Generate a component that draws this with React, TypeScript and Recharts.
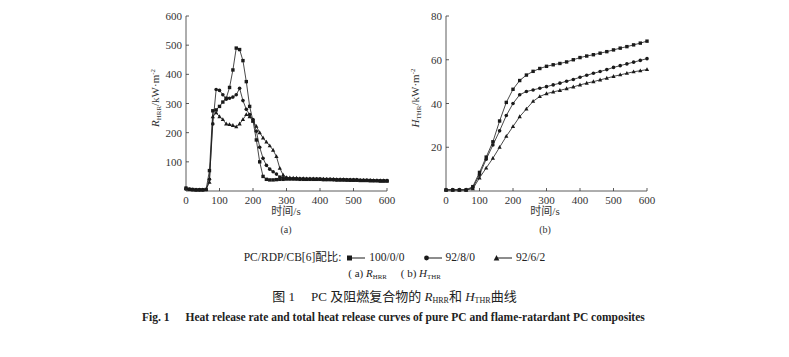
import React from 'react';
import { LineChart, Line, XAxis, YAxis } from 'recharts';

// time axis of the heat release rate curves, s
const hrrTime = [
  0, 10, 20, 30, 40, 50, 60, 70, 80, 90, 100, 110, 120, 130, 140, 150, 160, 170, 180, 190, 200,
  210, 220, 230, 240, 250, 260, 270, 280, 290, 300, 310, 320, 330, 340, 350, 360, 370, 380, 390,
  400, 410, 420, 430, 440, 450, 460, 470, 480, 490, 500, 510, 520, 530, 540, 550, 560, 570, 580,
  590, 600,
];
// R_HRR, kW/m2
const hrrPC = [
  10, 6, 5, 4, 4, 4, 5, 70, 275, 278, 290, 305, 318, 355, 415, 490, 485, 447, 375, 290, 240,
  175, 100, 50, 40, 38, 38, 39, 40, 40, 41, 41, 41, 41, 40, 40, 40, 40, 40, 40,
  40, 39, 39, 39, 39, 38, 38, 38, 38, 37, 37, 37, 36, 36, 36, 35, 35, 35, 34,
  34, 34,
];
const hrrRdp = [
  8, 6, 5, 4, 4, 4, 5, 40, 230, 348, 345, 330, 315, 318, 322, 330, 352, 310, 280, 262, 245,
  205, 150, 112, 88, 75, 66, 58, 48, 45, 44, 43, 43, 42, 42, 42, 41, 41, 41, 41,
  41, 40, 40, 40, 39, 39, 39, 39, 38, 38, 38, 38, 37, 37, 37, 37, 36, 36, 36,
  36, 36,
];
const hrrRdpCb = [
  8, 5, 4, 4, 4, 4, 5, 30, 255, 268, 255, 245, 230, 228, 225, 220, 230, 245, 262, 255, 240,
  222, 200, 182, 168, 155, 140, 118, 78, 55, 46, 45, 44, 44, 43, 43, 42, 42, 42, 41,
  41, 41, 40, 40, 40, 39, 39, 39, 38, 38, 38, 38, 37, 37, 37, 36, 36, 36, 35,
  35, 35,
];

// time axis of the total heat release curves, s
const thrTime = [
  0, 20, 40, 60, 80, 100, 120, 140, 160, 180, 200, 220, 240, 260, 280, 300, 320, 340, 360, 380,
  400, 420, 440, 460, 480, 500, 520, 540, 560, 580, 600,
];
// H_THR, MJ/m2
const thrPC = [
  0.5, 0.5, 0.5, 0.5, 2, 8.5, 15.5, 22.5, 32, 40.5, 46.5, 50.5, 53, 54.7, 56, 57, 57.7, 58.3, 59,
  60, 61, 61.7, 62.3, 63, 63.7, 64.5, 65.3, 66, 66.8, 67.6, 68.5,
];
const thrRdp = [
  0.5, 0.5, 0.5, 0.5, 1.5, 7.5, 14.5, 21, 27.5, 34.5, 40, 44, 45.5, 46.2, 47, 47.7, 48.5, 49.3,
  50.2, 51, 52, 52.9, 53.8, 54.6, 55.5, 56.5, 57.3, 58.1, 58.9, 59.7, 60.5,
];
const thrRdpCb = [
  0.5, 0.5, 0.5, 0.5, 1, 6, 10.5, 15, 20, 25, 29.5, 34, 37.5, 41, 43.2, 44.5, 45.3, 46, 46.8,
  47.6, 48.5, 49.3, 50, 50.8, 51.6, 52.4, 53.1, 53.8, 54.5, 55, 55.5,
];

const xTicks = [0, 100, 200, 300, 400, 500, 600];
const hrrTicks = [100, 200, 300, 400, 500, 600];
const thrTicks = [20, 40, 60, 80];
const seriesNames = ['100/0/0', '92/8/0', '92/6/2'];

const hrrData = hrrTime.map((t, i) => ({ t, a: hrrPC[i], b: hrrRdp[i], c: hrrRdpCb[i] }));
const thrData = thrTime.map((t, i) => ({ t, a: thrPC[i], b: thrRdp[i], c: thrRdpCb[i] }));

const INK = '#1a1a1a';
const AXIS = '#333';
const SERIF = '"Liberation Serif", "Noto Sans CJK SC", serif';

const squareDot = (p: any) => (
  <rect key={p.index} x={p.cx - 1.7} y={p.cy - 1.7} width={3.4} height={3.4} fill={INK} />
);
const circleDot = (p: any) => <circle key={p.index} cx={p.cx} cy={p.cy} r={1.8} fill={INK} />;
const triangleDot = (p: any) => (
  <path
    key={p.index}
    d={`M${p.cx},${p.cy - 2.3}L${p.cx + 2.1},${p.cy + 1.5}L${p.cx - 2.1},${p.cy + 1.5}Z`}
    fill={INK}
  />
);

const XTick = (props: any) => {
  const { x, y, payload } = props;
  return (
    <g>
      <line x1={x} x2={x} y1={y - 2} y2={y - 5} stroke={AXIS} strokeWidth={0.8} />
      <text x={x} y={y + 11} textAnchor="middle" fontSize={11} fontFamily={SERIF} fill="#333">
        {payload.value}
      </text>
    </g>
  );
};

const YTick = (props: any) => {
  const { x, y, payload } = props;
  return (
    <g>
      <line x1={x + 4} x2={x + 7} y1={y} y2={y} stroke={AXIS} strokeWidth={0.8} />
      <text x={x} y={y + 4} textAnchor="end" fontSize={11} fontFamily={SERIF} fill="#333">
        {payload.value}
      </text>
    </g>
  );
};

function Panel({ data, yMax, yTicks, left }: any) {
  return (
    <div style={{ position: 'absolute', left, top: 0 }}>
      <LineChart
        width={260}
        height={240}
        data={data}
        margin={{ top: 16, right: 13, bottom: 19, left: 10 }}
      >
        <XAxis
          dataKey="t"
          type="number"
          domain={[0, 600]}
          ticks={xTicks}
          tickSize={0}
          tickMargin={2}
          tick={<XTick />}
          height={30}
          stroke={AXIS}
          strokeWidth={0.8}
        />
        <YAxis
          type="number"
          domain={[0, yMax]}
          ticks={yTicks}
          tickSize={0}
          tickMargin={4}
          tick={<YTick />}
          width={36}
          stroke={AXIS}
          strokeWidth={0.8}
        />
        <Line dataKey="a" stroke={INK} strokeWidth={0.8} dot={squareDot} isAnimationActive={false} />
        <Line dataKey="b" stroke={INK} strokeWidth={0.8} dot={circleDot} isAnimationActive={false} />
        <Line dataKey="c" stroke={INK} strokeWidth={0.8} dot={triangleDot} isAnimationActive={false} />
      </LineChart>
    </div>
  );
}

const YTitle = ({ x, letter, sub }: any) => (
  <text
    transform={`translate(${x},98) rotate(-90)`}
    textAnchor="middle"
    fontSize={11}
    fontFamily={SERIF}
    fill="#333"
  >
    <tspan fontStyle="italic">{letter}</tspan>
    <tspan fontSize={7} dy={2}>{sub}</tspan>
    <tspan dy={-2}>/kW·m</tspan>
    <tspan fontSize={7} dy={-4}>-2</tspan>
  </text>
);

const LegendMark = ({ kind }: any) => (
  <svg width={20} height={8} style={{ verticalAlign: 'middle', margin: '0 3px 0 0' }}>
    <line x1={4} x2={19} y1={4} y2={4} stroke={INK} strokeWidth={1} />
    {kind === 0 && <rect x={1} y={1.5} width={5} height={5} fill={INK} />}
    {kind === 1 && <circle cx={3.5} cy={4} r={2.4} fill={INK} />}
    {kind === 2 && <path d="M3.5,1L6.3,6.5L0.7,6.5Z" fill={INK} />}
  </svg>
);

const Sub = ({ children }: any) => (
  <span style={{ fontSize: '0.62em', verticalAlign: '-0.25em' }}>{children}</span>
);

export default function App() {
  return (
    <div
      style={{
        position: 'absolute',
        left: 0,
        top: 0,
        width: 789,
        height: 357,
        background: '#fff',
        fontFamily: SERIF,
        color: '#222',
        overflow: 'hidden',
      }}
    >
      <Panel data={hrrData} yMax={600} yTicks={hrrTicks} left={140} />
      <Panel data={thrData} yMax={80} yTicks={thrTicks} left={400} />

      <svg width={789} height={240} style={{ position: 'absolute', left: 0, top: 0 }}>
        <YTitle x={159} letter="R" sub="HRR" />
        <YTitle x={419} letter="H" sub="THR" />
        <text x={286} y={215} textAnchor="middle" fontSize={11} fontFamily={SERIF} fill="#333">
          时间/s
        </text>
        <text x={545} y={215} textAnchor="middle" fontSize={11} fontFamily={SERIF} fill="#333">
          时间/s
        </text>
        <text x={286} y={233} textAnchor="middle" fontSize={10} fontFamily={SERIF} fill="#333">
          (a)
        </text>
        <text x={545} y={233} textAnchor="middle" fontSize={10} fontFamily={SERIF} fill="#333">
          (b)
        </text>
      </svg>

      <div style={{ position: 'absolute', left: 0, width: 789, top: 248, textAlign: 'center', fontSize: 11.5, whiteSpace: 'nowrap' }}>
        PC/RDP/CB[6]配比:{' '}
        {seriesNames.map((n, i) => (
          <span key={n} style={{ marginLeft: i === 0 ? 2 : 18 }}>
            <LegendMark kind={i} />
            {n}
          </span>
        ))}
      </div>
      <div style={{ position: 'absolute', left: 0, width: 789, top: 267, textAlign: 'center', fontSize: 11, whiteSpace: 'nowrap' }}>
        ( a) <i>R</i>
        <Sub>HRR</Sub>
        <span style={{ marginLeft: 14 }}>( b) </span>
        <i>H</i>
        <Sub>THR</Sub>
      </div>
      <div style={{ position: 'absolute', left: 0, width: 789, top: 286, textAlign: 'center', fontSize: 13, whiteSpace: 'nowrap' }}>
        图 1<span style={{ marginLeft: 16 }}>PC 及阻燃复合物的 </span>
        <i>R</i>
        <Sub>HRR</Sub>和 <i>H</i>
        <Sub>THR</Sub>曲线
      </div>
      <div style={{ position: 'absolute', left: 142, top: 311, fontSize: 11.5, fontWeight: 600, whiteSpace: 'nowrap' }}>
        Fig. 1<span style={{ marginLeft: 16 }}>Heat release rate and total heat release curves of pure PC and flame-ratardant PC composites</span>
      </div>
    </div>
  );
}
